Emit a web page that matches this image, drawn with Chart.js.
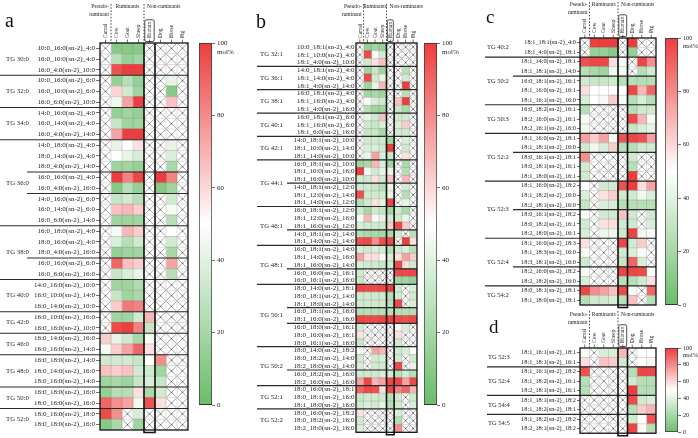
<!DOCTYPE html>
<html><head><meta charset="utf-8">
<script src="https://cdn.jsdelivr.net/npm/chart.js@4.4.1/dist/chart.umd.min.js"></script>
<style>
html,body{margin:0;padding:0;background:#fff;}
#wrap{position:relative;width:698px;height:438px;overflow:hidden;background:#fff;}
canvas{position:absolute;left:0;top:0;width:698px;height:438px;}
</style></head><body>
<div id="wrap">
<canvas id="ha" width="698" height="438"></canvas>
<canvas id="hb" width="698" height="438"></canvas>
<canvas id="hc" width="698" height="438"></canvas>
<canvas id="hd" width="698" height="438"></canvas>
<canvas id="ka" width="698" height="438"></canvas>
<canvas id="kb" width="698" height="438"></canvas>
<canvas id="kc" width="698" height="438"></canvas>
<canvas id="kd" width="698" height="438"></canvas>
</div>
<script>
const X = null;
const columns = ['Camel','Cow','Goat','Sheep','Human','Dog','Horse','Pig'];
const colorTicks = [0,20,40,60,80,100];

// ---------- panel a ----------
const aRows = [
'10:0_16:0(sn-2)_4:0','16:0_10:0(sn-2)_4:0','16:0_4:0(sn-2)_10:0',
'10:0_16:0(sn-2)_6:0','16:0_10:0(sn-2)_6:0','16:0_6:0(sn-2)_10:0',
'14:0_16:0(sn-2)_4:0','16:0_14:0(sn-2)_4:0','16:0_4:0(sn-2)_14:0',
'14:0_18:0(sn-2)_4:0','18:0_14:0(sn-2)_4:0','18:0_4:0(sn-2)_14:0','16:0_16:0(sn-2)_4:0','16:0_4:0(sn-2)_16:0','14:0_16:0(sn-2)_6:0','16:0_14:0(sn-2)_6:0','16:0_6:0(sn-2)_14:0',
'16:0_18:0(sn-2)_4:0','18:0_16:0(sn-2)_4:0','18:0_4:0(sn-2)_16:0','16:0_16:0(sn-2)_6:0','16:0_6:0(sn-2)_16:0',
'14:0_16:0(sn-2)_10:0','16:0_10:0(sn-2)_14:0','16:0_14:0(sn-2)_10:0',
'16:0_10:0(sn-2)_16:0','16:0_16:0(sn-2)_10:0',
'16:0_14:0(sn-2)_16:0','16:0_16:0(sn-2)_14:0',
'16:0_18:0(sn-2)_14:0','18:0_14:0(sn-2)_16:0','18:0_16:0(sn-2)_14:0',
'16:0_18:0(sn-2)_16:0','18:0_16:0(sn-2)_16:0',
'18:0_16:0(sn-2)_18:0','18:0_18:0(sn-2)_16:0'];
const aGroups = [['TG 30:0',[3]],['TG 32:0',[3]],['TG 34:0',[3]],['TG 36:0',[3,2,3]],['TG 38:0',[3,2]],['TG 40:0',[3]],['TG 42:0',[2]],['TG 46:0',[2]],['TG 48:0',[3]],['TG 50:0',[2]],['TG 52:0',[2]]];
const aValues = [
[X,10,10,10,X,X,X,X],
[X,26,15,18,X,X,X,X],
[X,95,100,100,X,X,X,X],
[X,15,26,15,X,X,42,X],
[X,61,34,18,X,X,10,X],
[X,45,74,100,X,X,66,X],
[X,15,18,15,X,X,X,X],
[X,31,18,18,X,X,X,X],
[X,74,100,100,X,X,X,X],
[X,42,50,58,X,X,42,X],
[X,50,42,37,X,X,37,X],
[X,18,18,15,X,X,21,X],
[X,100,82,98,X,100,82,X],
[X,10,26,15,X,10,18,X],
[X,31,34,26,X,X,34,X],
[X,66,69,63,X,X,47,X],
[X,18,18,18,X,X,26,X],
[X,47,69,63,X,X,50,X],
[X,37,26,34,X,X,34,X],
[X,15,18,18,X,X,21,X],
[X,90,66,63,X,X,74,X],
[X,31,37,42,X,X,26,X],
[X,18,18,23,X,X,X,X],
[X,31,18,21,X,X,X,X],
[X,63,85,82,X,X,X,X],
[X,18,18,34,69,X,X,X],
[X,97,100,82,31,X,X,X],
[63,42,34,21,47,X,X,X],
[47,63,74,90,58,X,X,X],
[34,34,34,31,50,79,X,X],
[66,63,66,34,34,18,X,X],
[18,21,18,31,37,31,X,X],
[15,26,26,58,21,34,X,X],
[90,79,74,45,95,58,X,X],
[97,79,X,37,X,X,X,X],
[10,21,X,18,X,X,X,X]];

// ---------- panel b ----------
const bRows = [
'10:0_18:1(sn-2)_4:0','18:1_10:0(sn-2)_4:0','18:1_4:0(sn-2)_10:0',
'14:0_18:1(sn-2)_4:0','18:1_14:0(sn-2)_4:0','18:1_4:0(sn-2)_14:0',
'16:0_18:1(sn-2)_4:0','18:1_16:0(sn-2)_4:0','18:1_4:0(sn-2)_16:0',
'16:0_18:1(sn-2)_6:0','18:1_16:0(sn-2)_6:0','18:1_6:0(sn-2)_16:0',
'14:0_18:1(sn-2)_10:0','18:1_10:0(sn-2)_14:0','18:1_14:0(sn-2)_10:0',
'16:0_18:1(sn-2)_10:0','18:1_10:0(sn-2)_16:0','18:1_16:0(sn-2)_10:0','14:0_18:1(sn-2)_12:0','18:1_12:0(sn-2)_14:0','18:1_14:0(sn-2)_12:0',
'16:0_18:1(sn-2)_12:0','18:1_12:0(sn-2)_16:0','18:1_16:0(sn-2)_12:0','14:0_18:1(sn-2)_14:0','18:1_14:0(sn-2)_14:0',
'16:0_18:1(sn-2)_14:0','18:1_14:0(sn-2)_16:0','18:1_16:0(sn-2)_14:0','16:0_16:0(sn-2)_16:1','16:0_16:1(sn-2)_16:0',
'18:0_14:0(sn-2)_18:1','18:0_18:1(sn-2)_14:0','18:1_18:0(sn-2)_14:0','16:0_18:1(sn-2)_16:0','18:1_16:0(sn-2)_16:0','16:0_18:0(sn-2)_16:1','18:0_16:0(sn-2)_16:1','18:0_16:1(sn-2)_16:0',
'18:0_14:0(sn-2)_18:2','18:0_18:2(sn-2)_14:0','18:2_18:0(sn-2)_14:0','16:0_18:2(sn-2)_16:0','18:2_16:0(sn-2)_16:0',
'18:0_16:0(sn-2)_18:1','18:0_18:1(sn-2)_16:0','18:1_18:0(sn-2)_16:0',
'18:0_16:0(sn-2)_18:2','18:0_18:2(sn-2)_16:0','18:2_18:0(sn-2)_16:0'];
const bGroups = [['TG 32:1',[3]],['TG 36:1',[3]],['TG 38:1',[3]],['TG 40:1',[3]],['TG 42:1',[3]],['TG 44:1',[3,3]],['TG 46:1',[3,2]],['TG 48:1',[3,2]],['TG 50:1',[3,2,3]],['TG 50:2',[3,2]],['TG 52:1',[3]],['TG 52:2',[3]]];
const bValues = [
[X,15,18,15,X,X,X,X],
[X,97,47,34,X,X,X,X],
[X,34,58,66,X,X,X,X],
[X,18,31,18,X,X,26,X],
[X,97,34,42,X,X,34,X],
[X,18,42,69,X,X,100,X],
[X,18,21,18,X,X,26,X],
[X,50,37,34,X,66,100,X],
[X,26,18,18,X,31,21,X],
[X,42,34,66,X,34,34,X],
[X,34,31,37,X,37,63,X],
[X,31,31,21,X,34,34,X],
[X,34,34,34,18,X,37,X],
[X,37,37,34,100,X,34,X],
[X,42,74,37,31,X,58,X],
[18,21,69,37,18,X,21,X],
[100,47,34,42,42,X,26,X],
[34,34,58,34,66,X,69,X],
[34,34,31,26,42,X,34,X],
[95,34,34,34,42,X,26,X],
[26,34,58,42,98,X,42,X],
[34,21,34,31,18,34,21,X],
[47,69,47,42,34,34,42,X],
[37,34,34,34,63,97,63,X],
[26,21,21,21,21,34,X,26],
[95,97,79,95,97,X,100,58],
[37,34,37,34,26,34,37,26],
[74,58,58,47,37,58,74,63],
[37,34,34,31,34,97,58,34],
[34,X,X,X,X,97,97,98],
[31,X,X,X,X,18,18,15],
[98,97,97,98,100,34,X,37],
[34,34,34,34,26,34,X,34],
[34,34,34,34,26,98,X,37],
[26,26,26,26,26,26,26,26],
[98,97,97,98,100,97,95,98],
[34,X,X,X,X,47,37,X],
[58,X,X,X,X,58,X,X],
[31,X,X,X,X,34,X,X],
[50,X,74,69,X,34,37,50],
[34,X,34,37,X,34,X,34],
[37,X,34,34,X,97,X,42],
[34,34,34,37,34,26,34,26],
[74,98,69,74,97,98,74,97],
[90,97,95,58,98,82,90,69],
[31,34,34,34,26,34,X,34],
[34,37,34,42,26,34,X,37],
[58,X,X,X,X,37,X,X],
[34,X,X,X,X,26,X,X],
[37,X,X,X,X,79,X,X]];

// ---------- panel c ----------
const cRows = [
'18:1_18:1(sn-2)_4:0','18:1_4:0(sn-2)_18:1',
'18:1_14:0(sn-2)_18:1','18:1_18:1(sn-2)_14:0','16:0_18:1(sn-2)_16:1','18:1_16:0(sn-2)_16:1','18:1_16:1(sn-2)_16:0',
'16:0_18:2(sn-2)_16:1','18:2_16:0(sn-2)_16:1','18:2_16:1(sn-2)_16:0',
'18:1_16:0(sn-2)_18:1','18:1_18:1(sn-2)_16:0','18:0_16:1(sn-2)_18:1','18:0_18:1(sn-2)_16:1','18:1_18:0(sn-2)_16:1',
'18:1_16:0(sn-2)_18:2','18:1_18:2(sn-2)_16:0','18:2_18:1(sn-2)_16:0','18:0_16:1(sn-2)_18:2','18:0_18:2(sn-2)_16:1','18:2_18:0(sn-2)_16:1',
'18:1_16:0(sn-2)_18:3','18:1_18:3(sn-2)_16:0','18:3_18:1(sn-2)_16:0','18:2_16:0(sn-2)_18:2','18:2_18:2(sn-2)_16:0',
'18:0_18:1(sn-2)_18:1','18:1_18:0(sn-2)_18:1'];
const cGroups = [['TG 40:2',[2]],['TG 50:2',[2,3]],['TG 50:3',[3]],['TG 52:2',[2,3]],['TG 52:3',[3,3]],['TG 52:4',[3,2]],['TG 54:2',[2]]];
const cValues = [
[X,100,100,100,X,100,X,X],
[X,15,15,10,X,15,X,X],
[95,98,98,58,47,X,98,79],
[26,21,18,45,47,X,26,34],
[34,31,31,34,26,26,26,26],
[58,50,50,50,50,98,69,90],
[37,50,47,63,47,26,37,26],
[26,X,X,X,X,26,34,34],
[47,X,X,X,X,97,69,47],
[45,X,X,X,X,31,37,42],
[74,63,74,45,95,98,95,74],
[34,45,37,63,26,26,34,34],
[79,X,X,X,X,34,X,X],
[34,X,X,X,X,26,X,X],
[34,X,X,X,X,100,X,X],
[50,X,34,34,95,100,58,74],
[37,X,58,63,34,34,45,37],
[31,X,37,37,26,26,26,26],
[47,X,34,34,66,34,X,34],
[34,X,58,58,34,34,X,37],
[37,X,44,44,34,98,45,47],
[58,X,X,X,98,34,63,X],
[47,X,X,X,34,37,47,X],
[34,X,X,X,31,90,37,X],
[47,X,X,X,98,98,97,50],
[37,X,X,X,26,26,34,58],
[98,79,74,66,97,47,X,90],
[26,34,34,37,26,66,X,26]];

// ---------- panel d ----------
const dRows = [
'18:1_16:1(sn-2)_18:1','18:1_18:1(sn-2)_16:1',
'18:1_16:1(sn-2)_18:2','18:1_18:2(sn-2)_16:1','18:2_18:1(sn-2)_16:1',
'18:1_18:1(sn-2)_18:2','18:1_18:2(sn-2)_18:1',
'18:1_18:2(sn-2)_18:2','18:2_18:1(sn-2)_18:2'];
const dGroups = [['TG 52:3',[2]],['TG 52:4',[3]],['TG 54:4',[2]],['TG 54:5',[2]]];
const dValues = [
[47,X,37,37,69,X,50,50],
[58,X,66,63,34,X,50,53],
[95,X,X,X,X,26,98,98],
[26,X,X,X,X,34,26,26],
[26,X,X,X,X,100,26,26],
[X,X,X,X,X,97,34,37],
[X,X,X,X,X,26,63,69],
[X,X,X,X,X,34,50,95],
[X,X,X,X,X,98,47,26]];

// ---------- drawing ----------
const SERIF = "'Liberation Serif','Times New Roman',serif";
const G0 = [106,188,106], WH = [255,255,255], R1 = [236,62,62];
function colorFor(v){
  if (v === null || v === undefined) return '#ffffff';
  const t = Math.max(0, Math.min(100, v)) / 100;
  let a, b, f;
  if (t < 0.5) { a = G0; b = WH; f = t / 0.5; } else { a = WH; b = R1; f = (t - 0.5) / 0.5; }
  const m = i => Math.round(a[i] + (b[i] - a[i]) * f);
  return `rgb(${m(0)},${m(1)},${m(2)})`;
}

function heatPlugin(P){
  return {
    id: 'heat_' + P.letter,
    afterDatasetsDraw(chart){
      const c = chart.ctx, xs = chart.scales.x, ys = chart.scales.y, ca = chart.chartArea;
      const n = P.rows.length;
      const rowH = ys.getPixelForValue(1) - ys.getPixelForValue(0);
      c.save();
      c.strokeStyle = 'rgba(100,100,100,0.45)'; c.lineWidth = 0.5;
      c.beginPath();
      for (let k = 1; k < 8; k++) { const x = xs.getPixelForValue(k); c.moveTo(x, ca.top); c.lineTo(x, ca.bottom); }
      for (let r = 1; r < n; r++) { const y = ys.getPixelForValue(r) - rowH / 2; c.moveTo(ca.left, y); c.lineTo(ca.right, y); }
      c.stroke();
      // crossed cells
      c.strokeStyle = '#666'; c.lineWidth = 0.6;
      chart.data.datasets.forEach((ds, ci) => {
        const meta = chart.getDatasetMeta(ci);
        meta.data.forEach((el, ri) => {
          if (P.values[ri][ci] !== null) return;
          const p = el.getProps(['x','y','base','height'], true);
          const l = Math.min(p.x, p.base) + 0.6, r = Math.max(p.x, p.base) - 0.6;
          const t = p.y - p.height / 2 + 0.6, b = p.y + p.height / 2 - 0.6;
          c.beginPath(); c.moveTo(l, t); c.lineTo(r, b); c.moveTo(r, t); c.lineTo(l, b); c.stroke();
          c.beginPath(); c.arc((l + r) / 2, p.y, 0.7, 0, Math.PI * 2); c.fillStyle = '#555'; c.fill();
        });
      });
      c.restore();
    },
    afterDraw(chart){
      const c = chart.ctx, xs = chart.scales.x, ys = chart.scales.y, ca = chart.chartArea;
      const rowH = ys.getPixelForValue(1) - ys.getPixelForValue(0);
      const bound = r => ys.getPixelForValue(0) - rowH / 2 + r * rowH;
      c.save();
      // group separators and labels
      c.strokeStyle = '#2a2a2a'; c.lineWidth = 1.2;
      const hline = (y, x0) => { c.beginPath(); c.moveTo(x0, y); c.lineTo(ca.right, y); c.stroke(); };
      c.font = `${P.groupFont}px ${SERIF}`; c.fillStyle = '#222'; c.textAlign = 'left'; c.textBaseline = 'middle';
      let r = 0;
      P.groups.forEach(([name, subs], gi) => {
        const start = r;
        subs.forEach((k, si) => { r += k; if (si < subs.length - 1) hline(bound(r), P.subX); });
        if (gi < P.groups.length - 1) hline(bound(r), P.lineX);
        c.fillText(name, P.groupX, (bound(start) + bound(r)) / 2);
      });
      // outer border
      c.strokeStyle = '#111'; c.lineWidth = 1.3;
      c.strokeRect(ca.left, ca.top, ca.right - ca.left, ca.bottom - ca.top);
      // human column box
      const x4 = xs.getPixelForValue(4), x5 = xs.getPixelForValue(5);
      c.lineWidth = 1.6;
      c.beginPath(); c.moveTo(x4, ca.top); c.lineTo(x4, ca.bottom + 2.5); c.lineTo(x5, ca.bottom + 2.5); c.lineTo(x5, ca.top); c.stroke();
      // column labels
      const colW = xs.getPixelForValue(1) - xs.getPixelForValue(0);
      c.font = `${P.colFont}px ${SERIF}`; c.fillStyle = '#222';
      c.strokeStyle = '#333'; c.lineWidth = 0.7;
      columns.forEach((name, ci) => {
        const x = xs.getPixelForValue(ci + 0.5);
        c.save(); c.translate(x, ca.top - 5); c.rotate(-Math.PI / 2);
        c.textAlign = 'left'; c.textBaseline = 'middle'; c.fillText(name, 0, 0.3); c.restore();
        c.beginPath(); c.moveTo(x, ca.top - 3.5); c.lineTo(x, ca.top); c.stroke();
        if (name === 'Human') {
          const w = c.measureText(name).width;
          c.save(); c.lineWidth = 0.8; c.strokeStyle = '#222';
          c.beginPath(); c.roundRect(x4 + 0.8, ca.top - 5 - w - 2, colW - 1.6, w + 5.5, 1.5); c.stroke(); c.restore();
        }
      });
      // header groups
      const x1 = xs.getPixelForValue(1);
      c.strokeStyle = '#333'; c.lineWidth = 0.9; c.setLineDash([1.6, 1.6]);
      [x1, x4].forEach(x => { c.beginPath(); c.moveTo(x, ca.top - P.dashH); c.lineTo(x, ca.top); c.stroke(); });
      c.setLineDash([]);
      c.font = `${P.headFont}px ${SERIF}`; c.fillStyle = '#222'; c.textBaseline = 'middle';
      const hy = ca.top - P.headY;
      c.textAlign = 'right'; c.fillText('Pseudo-', x1 - 2, hy); c.fillText('ruminant', x1 - 2, hy + 8);
      c.textAlign = 'center'; c.fillText('Ruminants', (x1 + x4) / 2, hy);
      c.textAlign = 'left'; c.fillText('Non-ruminants', x4 + 3, hy);
      // panel letter
      c.font = `${P.letterSize}px ${SERIF}`; c.textAlign = 'left'; c.textBaseline = 'alphabetic'; c.fillStyle = '#111';
      c.fillText(P.letter, P.letterX, P.letterY);
      c.restore();
    }
  };
}

function heatmap(id, P){
  const A = P.area;
  const datasets = columns.map((name, ci) => ({
    label: name,
    data: P.rows.map(() => [ci, ci + 1]),
    backgroundColor: ctx => colorFor(P.values[ctx.dataIndex][ci]),
    borderWidth: 0,
    grouped: false,
    barPercentage: 1,
    categoryPercentage: 1
  }));
  return new Chart(document.getElementById(id), {
    type: 'bar',
    data: { labels: P.rows, datasets },
    options: {
      indexAxis: 'y', responsive: false, animation: false, devicePixelRatio: 1,
      layout: { padding: { left: 0, right: 698 - A.r, top: A.t, bottom: 438 - A.b } },
      plugins: { legend: { display: false }, tooltip: { enabled: false }, title: { display: false } },
      scales: {
        x: { type: 'linear', min: 0, max: 8, display: false },
        y: {
          type: 'category', position: 'left', offset: true,
          grid: { offset: false, drawOnChartArea: false, drawTicks: P.tick > 0, tickLength: P.tick, color: '#333', lineWidth: 0.7 },
          border: { display: false },
          ticks: { autoSkip: false, padding: P.tickPad, color: '#222', font: { family: SERIF, size: P.rowFont } },
          afterFit: s => { s.width = A.l; }
        }
      }
    },
    plugins: [heatPlugin(P)]
  });
}

function colorbar(id, B){
  return new Chart(document.getElementById(id), {
    type: 'bar',
    data: { labels: [''], datasets: [{
      data: [[0, 100]],
      backgroundColor: ctx => {
        const ch = ctx.chart, ca = ch.chartArea;
        if (!ca) return '#fff';
        const g = ch.ctx.createLinearGradient(0, ca.bottom, 0, ca.top);
        for (let i = 0; i <= 20; i++) g.addColorStop(i / 20, colorFor(i * 5));
        return g;
      },
      borderColor: '#333', borderWidth: 1, borderSkipped: false,
      barPercentage: 1, categoryPercentage: 1
    }] },
    options: {
      responsive: false, animation: false, devicePixelRatio: 1,
      layout: { padding: { left: B.l, right: 698 - B.r - 30, top: B.t, bottom: 438 - B.b } },
      plugins: { legend: { display: false }, tooltip: { enabled: false } },
      scales: {
        x: { display: false },
        y: {
          position: 'right', min: 0, max: 100,
          afterBuildTicks: s => { s.ticks = colorTicks.map(v => ({ value: v })); },
          grid: { drawOnChartArea: false, tickLength: 3, color: '#333', lineWidth: 0.7 },
          border: { display: false },
          ticks: { padding: 2, color: '#222', font: { family: SERIF, size: B.font } },
          afterFit: s => { s.width = 30; }
        }
      }
    },
    plugins: [{
      id: 'mol_' + id,
      afterDraw(chart){
        const c = chart.ctx, ca = chart.chartArea;
        c.save(); c.font = `${B.font}px ${SERIF}`; c.fillStyle = '#222';
        c.textAlign = 'left'; c.textBaseline = 'middle';
        c.fillText('mol%', ca.right + 5, ca.top + B.molDy);
        c.restore();
      }
    }]
  });
}

heatmap('ha', { letter:'a', rows:aRows, values:aValues, groups:aGroups, area:{l:100,t:43,r:188,b:430},
  rowFont:7, tick:4, tickPad:1, colFont:5.5, headFont:5.5, groupFont:6.8, groupX:6, lineX:0, subX:27,
  headY:36, dashH:39, letterSize:20, letterX:5, letterY:27 });
heatmap('hb', { letter:'b', rows:bRows, values:bValues, groups:bGroups, area:{l:356,t:43,r:417,b:433},
  rowFont:7, tick:0, tickPad:1.5, colFont:5.5, headFont:5.5, groupFont:6.8, groupX:260, lineX:257, subX:287,
  headY:36, dashH:39, letterSize:20, letterX:256, letterY:28 });
heatmap('hc', { letter:'c', rows:cRows, values:cValues, groups:cGroups, area:{l:580,t:38,r:656,b:305},
  rowFont:6.3, tick:3, tickPad:1, colFont:5.5, headFont:5.5, groupFont:6.5, groupX:487, lineX:485, subX:513,
  headY:33, dashH:36, letterSize:19, letterX:486, letterY:23 });
heatmap('hd', { letter:'d', rows:dRows, values:dValues, groups:dGroups, area:{l:580,t:348,r:656,b:434},
  rowFont:6.3, tick:3, tickPad:1, colFont:5.5, headFont:5.5, groupFont:6.5, groupX:488, lineX:487, subX:513,
  headY:33, dashH:37, letterSize:19, letterX:489, letterY:333 });

colorbar('ka', { l:199, r:212, t:43, b:405, font:7, molDy:9 });
colorbar('kb', { l:424, r:437, t:43, b:405, font:7, molDy:9 });
colorbar('kc', { l:665, r:678, t:38, b:305, font:6.2, molDy:8 });
colorbar('kd', { l:665, r:678, t:348, b:434, font:6.2, molDy:7 });
</script>
</body></html>
